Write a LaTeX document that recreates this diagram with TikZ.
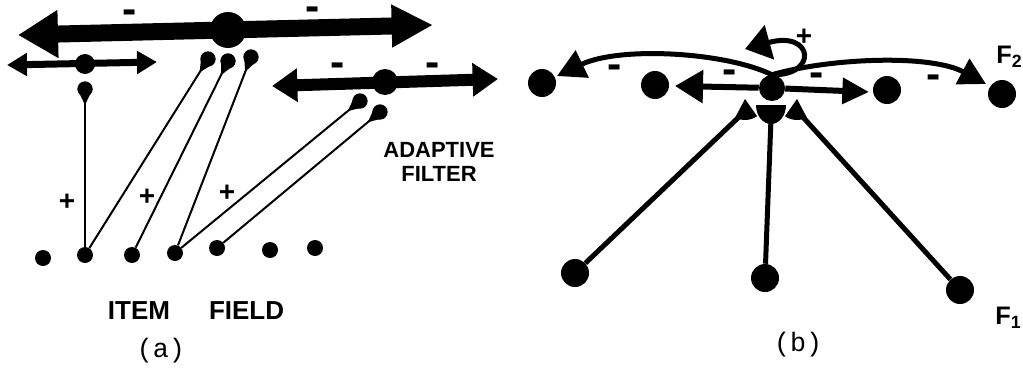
\documentclass[tikz,border=0pt]{standalone}
\usepackage{fontspec}
\setmainfont{Liberation Sans}
\newfontfamily\capfont{Liberation Mono}
\usetikzlibrary{arrows.meta}

\tikzset{
  cell/.style={circle,fill=black,inner sep=0pt,minimum size=#1},
  cell/.default=12pt,
  knob/.style={circle,fill=black,inner sep=0pt,minimum size=11.5pt},
  fibre/.style={line width=1.5pt,-{Triangle[reversed,length=12pt,width=11pt]}},
  axon/.style={line width=3.75pt},
  plus/.style={inner sep=0pt,font=\fontsize{21}{21}\selectfont\bfseries},
  minus/.style={inner sep=0pt,font=\fontsize{32}{32}\selectfont\bfseries},
  tag/.style={inner sep=0pt,font=\fontsize{19}{22}\selectfont\bfseries},
  capt/.style={inner sep=0pt,font=\fontsize{20}{22}\selectfont\capfont}
}

\begin{document}
\begin{tikzpicture}[x=0.75pt,y=0.75pt,yscale=-1,xscale=1]
  \path[use as bounding box] (0,0) rectangle (1023,371);

  %%%%%% (a) item field and adaptive filter
  % item field cells
  \node[cell] (d1) at (43,258) {};
  \node[cell] (d2) at (85,255) {};
  \node[cell] (d3) at (132,255) {};
  \node[cell] (d4) at (175,253) {};
  \node[cell] (d5) at (217,248) {};
  \node[cell] (d6) at (270,250) {};
  \node[cell] (d7) at (315,248) {};

  % big lateral arrow
  \coordinate (bigL) at (18,35);
  \coordinate (bigR) at (433,25);
  \draw [line width=12.75pt,{Triangle[length=30pt,width=34pt]}-{Triangle[length=31pt,width=30pt]}] (bigL) -- (bigR);
  \node[cell=27pt] (big) at (228,30) {};
  % small lateral arrow
  \coordinate (smallL) at (7,65);
  \coordinate (smallR) at (157,62);
  \draw [line width=5.25pt,{Triangle[length=15pt,width=16.5pt]}-{Triangle[length=15pt,width=16.5pt]}] (smallL) -- (smallR);
  \node[cell=15pt] (small) at (85,64) {};
  % right lateral arrow
  \coordinate (midL) at (272,86);
  \coordinate (midR) at (498,79);
  \draw [line width=9pt,{Triangle[length=19pt,width=24pt]}-{Triangle[length=19pt,width=24pt]}] (midL) -- (midR);
  \node[cell=19.5pt] (mid) at (385,82) {};

  % synaptic knobs
  \node[knob] (k0) at (85,89) {};
  \node[knob] (k1) at (208,59) {};
  \node[knob] (k2) at (228,61) {};
  \node[knob] (k3) at (251,57) {};
  \node[knob] (k4) at (360,101) {};
  \node[knob] (k5) at (380,112) {};

  % adaptive filter pathways
  \draw[fibre] (d2) -- (k0.center);
  \draw[fibre] (d2) -- (k1.center);
  \draw[fibre] (d3) -- (k2.center);
  \draw[fibre] (d4) -- (k3.center);
  \draw[fibre] (d4) -- (k4.center);
  \draw[fibre] (d5) -- (k5.center);

  % Text Node
  \node[plus] (pa1) at (67,202) {+};
  \node[plus] (pa2) at (147,197) {+};
  \node[plus] (pa3) at (227,193) {+};
  \node[minus] (ma1) at (130,17) {-};
  \node[minus] (ma2) at (313,14) {-};
  \node[minus] (ma3) at (338,70) {-};
  \node[minus] (ma4) at (433,70) {-};
  % Text Node
  \node[tag,align=center,font=\fontsize{16.5}{17.5}\selectfont\bfseries] (filt) at (439,162) {ADAPTIVE\\FILTER};
  \node[tag,font=\fontsize{19.5}{20}\selectfont\bfseries] (item) at (196,311) {ITEM\hspace{1.5em}FIELD};
  \node[capt] (capa) at (161,351) {(a)};

  %%%%%% (b) F1 -> F2
  \node[cell=21pt] (g1) at (542,83) {};
  \node[cell=21pt] (g2) at (655,85) {};
  \node[cell=19.5pt] (c) at (772,88) {};
  \node[cell=21pt] (g4) at (887,90) {};
  \node[cell=21pt] (g5) at (1002,94) {};

  \node[cell=21pt] (f1a) at (575,273) {};
  \node[cell=21pt] (f1b) at (765,278) {};
  \node[cell=21pt] (f1c) at (960,290) {};

  % knobs onto the F2 cell
  \coordinate (kLtip) at (745,99);
  \coordinate (kRtip) at (797,99);
  \coordinate (kL) at (741,115);
  \coordinate (kM) at (771,118);
  \coordinate (kR) at (801,115);
  \fill (kLtip) -- ++(118:21) arc[start angle=118,end angle=55,radius=21] -- cycle;
  \fill (kRtip) -- ++(62:21) arc[start angle=62,end angle=125,radius=21] -- cycle;
  \fill (756,105) arc[start angle=180,end angle=0,x radius=15,y radius=19] -- cycle;
  \draw[axon] (f1a) -- (kL);
  \draw[axon] (f1b) -- (kM);
  \draw[axon] (f1c) -- (kR);

  % lateral inhibition and self excitation
  \coordinate (tipL) at (557,76);
  \coordinate (tipR) at (986,84);
  \coordinate (shortL) at (675,86);
  \coordinate (shortR) at (869,92);
  \coordinate (loopT) at (745,49);
  \draw[line width=3.75pt,-{Triangle[length=21pt,width=22pt]}] (c.north) .. controls (725,52) and (620,46) .. (tipL);
  \draw[line width=3.75pt,-{Triangle[length=20pt,width=21pt]}] (c.north) .. controls (830,58) and (930,54) .. (tipR);
  \draw[line width=4.5pt,-{Triangle[length=21pt,width=24pt]}] (c) -- (shortL);
  \draw[line width=4.5pt,-{Triangle[length=20pt,width=19pt]}] (c) -- (shortR);
  \draw[line width=3.75pt,-{Triangle[length=19pt,width=26pt]}] (c.north) .. controls (818,76) and (814,30) .. (loopT);

  % Text Node
  \node[plus] (pb) at (804,37) {+};
  \node[minus] (mb1) at (615,72) {-};
  \node[minus] (mb2) at (730,77) {-};
  \node[minus] (mb3) at (817,80) {-};
  \node[minus] (mb4) at (934,82) {-};
  \node[tag,anchor=base west] (F2) at (996,63) {F\textsubscript{2}};
  \node[tag,anchor=base west] (F1) at (995,324) {F\textsubscript{1}};
  \node[capt] (capb) at (798,345) {(b)};
\end{tikzpicture}
\end{document}
